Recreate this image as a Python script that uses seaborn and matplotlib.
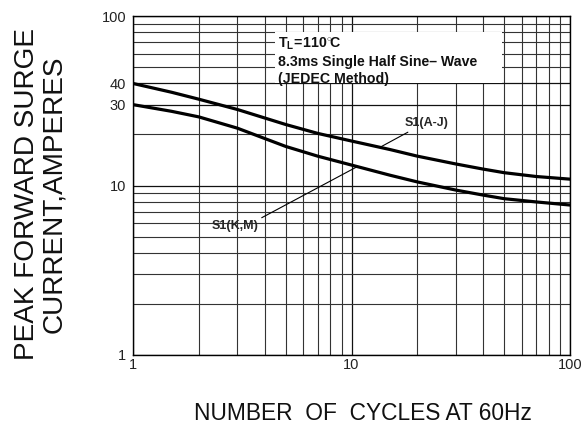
import matplotlib
matplotlib.use("Agg")
import matplotlib.pyplot as plt
import matplotlib.ticker as mticker
from matplotlib.patches import Rectangle
import seaborn as sns
import pandas as pd
import numpy as np

# ---- data ----
cycles = [1, 1.5, 2, 3, 5, 7, 10, 15, 20, 30, 40, 50, 70, 100]
s1_aj = [40, 35.5, 32.3, 28.1, 22.9, 20.3, 18.3, 16.3, 14.9, 13.4, 12.5, 11.9, 11.3, 10.9]
s1_km = [30, 27.4, 25.4, 21.8, 17.0, 14.9, 13.2, 11.5, 10.5, 9.4, 8.78, 8.36, 8.0, 7.67]
series_names = ["S1(A-J)", "S1(K,M)"]
y_ticks = [1, 10, 30, 40, 100]
y_tick_labels = ["1", "10", "30", "40", "100"]
x_ticks = [1, 10, 100]
x_tick_labels = ["1", "10", "100"]

df = pd.DataFrame({
    "cycles": cycles * 2,
    "current": s1_aj + s1_km,
    "series": [series_names[0]] * len(cycles) + [series_names[1]] * len(cycles),
})

sns.set_style("white")
plt.rcParams["font.family"] = ["Liberation Sans", "DejaVu Sans"]
plt.rcParams["mathtext.fontset"] = "custom"
plt.rcParams["mathtext.rm"] = "Liberation Sans:bold"
plt.rcParams["mathtext.bf"] = "Liberation Sans:bold"
plt.rcParams["mathtext.it"] = "Liberation Sans:bold"

fig = plt.figure(figsize=(5.86, 4.29), dpi=100)
ax = fig.add_axes([133/586, 1 - 355/429, (570-133)/586, (355-16)/429])

sns.lineplot(data=df, x="cycles", y="current", hue="series",
             palette=["black", "black"], linewidth=2.3, legend=False, ax=ax,
             zorder=5)

ax.set_xscale("log")
ax.set_yscale("log")
ax.set_xlim(1, 100)
ax.set_ylim(1, 100)

ax.set_xticks(x_ticks)
ax.set_xticklabels(x_tick_labels)
ax.set_yticks(y_ticks)
ax.set_yticklabels(y_tick_labels)
ax.xaxis.set_minor_locator(mticker.LogLocator(base=10, subs=np.arange(2, 10)))
ax.yaxis.set_minor_locator(mticker.LogLocator(base=10, subs=np.arange(2, 10)))
ax.xaxis.set_minor_formatter(mticker.NullFormatter())
ax.yaxis.set_minor_formatter(mticker.NullFormatter())
ax.tick_params(axis="both", which="both", length=0, labelsize=10.5, colors="#222222")
ax.tick_params(axis="y", pad=5)
ax.tick_params(axis="x", pad=2)

ax.grid(True, which="major", color="#111111", linewidth=0.9)
ax.grid(True, which="minor", color="#333333", linewidth=0.8)
for sp in ax.spines.values():
    sp.set_color("black")
    sp.set_linewidth(1.0)
ax.set_xlabel("")
ax.set_ylabel("")

# condition box (white patch hiding the grid)
ax.add_patch(Rectangle((0.325, 0.802), 0.519, 0.151, transform=ax.transAxes,
                       facecolor="white", edgecolor="none", zorder=3))
ax.text(0.331, 0.944,
        "$\\mathbf{T_{L}\\!=\\!110^{\\circ}\\!C}$\n8.3ms Single Half Sine\u2013 Wave\n(JEDEC Method)",
        transform=ax.transAxes, ha="left", va="top", fontsize=10.2, fontweight="bold",
        linespacing=1.3, zorder=6, color="#111111")

# series labels with leader lines
ax.annotate(series_names[0], xy=(13.5, 16.8), xytext=(17.6, 23.4),
            fontsize=9, fontweight="bold", ha="left", va="center", zorder=6,
            arrowprops=dict(arrowstyle="-", color="black", linewidth=0.8,
                            shrinkA=0, shrinkB=0, relpos=(0.2, 0.0)))
ax.annotate(series_names[1], xy=(10.6, 12.9), xytext=(2.93, 5.77),
            fontsize=9, fontweight="bold", ha="center", va="center", zorder=6,
            arrowprops=dict(arrowstyle="-", color="black", linewidth=0.8,
                            shrinkA=0, shrinkB=0, relpos=(0.98, 1.0)))

fig.text(41/586, 1 - 194/429, "PEAK FORWARD SURGE\nCURRENT,AMPERES",
         rotation=90, ha="center", va="center", fontsize=20.2,
         multialignment="center", linespacing=1.05, color="#111111")
fig.text(363/586, 1 - 413/429, "NUMBER  OF  CYCLES AT 60Hz",
         ha="center", va="center", fontsize=16.4, color="#111111")

fig.savefig("out.png", dpi=100)
